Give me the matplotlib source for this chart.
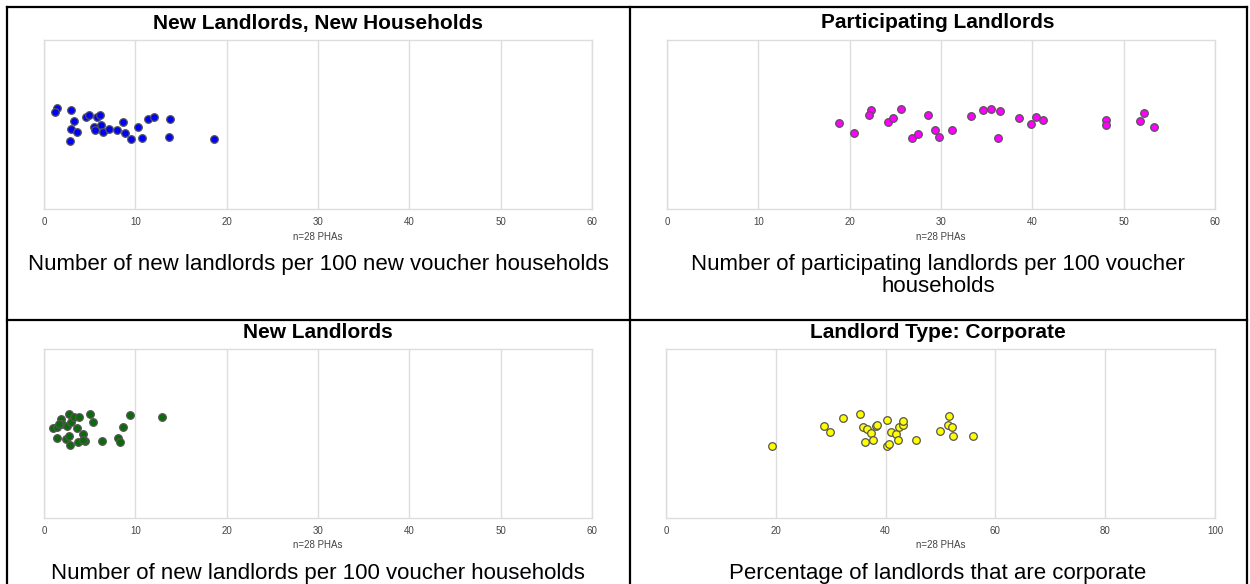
import matplotlib
matplotlib.use("Agg")
import matplotlib.pyplot as plt
from matplotlib.lines import Line2D

FONT = ["Liberation Sans Narrow", "Liberation Sans", "DejaVu Sans"]
plt.rcParams["font.family"] = FONT

# ---- data -------------------------------------------------------------
titles = ["New Landlords, New Households", "Participating Landlords",
          "New Landlords", "Landlord Type: Corporate"]
captions = ["Number of new landlords per 100 new voucher households",
            "Number of participating landlords per 100 voucher\nhouseholds",
            "Number of new landlords per 100 voucher households",
            "Percentage of landlords that are corporate"]
sample_note = "n=28 PHAs"

new_ll_new_hh = [1.39, 1.24, 2.99, 3.32, 2.99, 3.58, 2.88, 4.60, 4.89, 5.84,
                 6.10, 6.21, 5.44, 5.59, 6.46, 7.12, 7.96, 8.65, 8.84, 9.53,
                 10.33, 10.73, 11.36, 12.05, 13.80, 13.66, 18.59]
new_ll_new_hh_jit = [-0.099, -0.076, -0.084, -0.019, 0.028, 0.043, 0.096, -0.043,
                     -0.054, -0.043, -0.054, 0.001, 0.015, 0.033, 0.046, 0.027,
                     0.034, -0.013, 0.052, 0.086, 0.015, 0.080, -0.031, -0.046,
                     -0.031, 0.072, 0.086]

participating = [18.87, 20.47, 22.29, 22.11, 24.15, 24.77, 25.64, 26.81, 27.47,
                 28.56, 29.36, 29.76, 31.21, 33.26, 34.60, 35.52, 36.43, 36.21,
                 38.50, 39.85, 40.40, 41.20, 48.12, 48.09, 51.76, 52.27, 53.29]
participating_jit = [-0.011, 0.049, -0.088, -0.056, -0.017, -0.038, -0.092, 0.078,
                     0.058, -0.056, 0.031, 0.074, 0.031, -0.052, -0.084, -0.093,
                     -0.080, 0.078, -0.041, -0.001, -0.044, -0.028, -0.027, 0.003,
                     -0.022, -0.066, 0.017]

new_ll = [0.95, 1.46, 1.83, 1.46, 2.00, 2.49, 2.70, 2.99, 3.25, 3.87, 2.41, 2.77,
          2.88, 3.58, 3.69, 4.31, 4.49, 5.04, 5.37, 6.39, 8.14, 8.32, 8.62, 9.38,
          12.89, 4.30, 1.60]
new_ll_jit = [-0.031, -0.038, -0.088, 0.025, -0.058, -0.044, -0.114, -0.066,
              -0.096, -0.098, 0.034, 0.017, 0.068, -0.031, 0.052, 0.005, 0.044,
              -0.114, -0.066, 0.046, 0.028, 0.050, -0.040, -0.108, -0.099, 0.038,
              -0.054]

corporate_pct = [19.27, 28.86, 29.89, 32.32, 35.36, 35.85, 36.57, 37.36, 36.27,
                 37.72, 38.27, 38.51, 40.27, 41.00, 41.86, 42.40, 43.19, 43.24,
                 42.22, 40.33, 40.69, 45.56, 49.93, 51.57, 51.33, 52.11, 52.30,
                 55.94]
corporate_jit = [0.072, -0.046, -0.007, -0.090, -0.114, -0.038, -0.027, -0.003,
                 0.050, 0.037, -0.043, -0.049, -0.078, -0.007, 0.003, -0.038,
                 -0.052, -0.074, 0.038, 0.076, 0.062, 0.037, -0.015, -0.105,
                 -0.052, -0.038, 0.015, 0.013]

x_ticks_60 = [0, 10, 20, 30, 40, 50, 60]
x_ticks_100 = [0, 20, 40, 60, 80, 100]
colors = ["#0000ff", "#ff00ff", "#0b6b0b", "#ffff00"]

# ---- layout -----------------------------------------------------------
W, H = 1250, 584
fig = plt.figure(figsize=(W / 100, H / 100), dpi=100)
fig.patch.set_facecolor("white")


def fx(px):
    return px / W


def fy(py):
    return 1 - py / H


# table borders
border = dict(color="black", lw=1.6, transform=fig.transFigure)
fig.add_artist(Line2D([fx(7), fx(1247)], [fy(7), fy(7)], **border))
fig.add_artist(Line2D([fx(7), fx(7)], [fy(7), fy(590)], **border))
fig.add_artist(Line2D([fx(1247), fx(1247)], [fy(7), fy(590)], **border))
fig.add_artist(Line2D([fx(630), fx(630)], [fy(7), fy(590)], **border))
fig.add_artist(Line2D([fx(7), fx(1247)], [fy(320), fy(320)], **border))

panels = [
    (new_ll_new_hh, new_ll_new_hh_jit, x_ticks_60, 44, 592, 0),
    (participating, participating_jit, x_ticks_60, 667, 1215, 0),
    (new_ll, new_ll_jit, x_ticks_60, 44, 592, 309),
    (corporate_pct, corporate_jit, x_ticks_100, 666, 1215, 309),
]

for i, (vals, jit, ticks, x0, x1, dy) in enumerate(panels):
    top, bottom = 40 + dy, 209 + dy
    ax = fig.add_axes([fx(x0), fy(bottom), fx(x1 - x0), (bottom - top) / H])
    ax.set_facecolor("white")
    ax.scatter(vals, jit, s=30, c=colors[i], edgecolors="#555555",
               linewidths=0.9, zorder=3)
    ax.set_xlim(ticks[0], ticks[-1])
    ax.set_ylim(0.5, -0.5)
    ax.set_xticks(ticks)
    ax.set_xticklabels([str(t) for t in ticks])
    ax.set_yticks([])
    ax.tick_params(axis="x", length=0, pad=6, labelsize=7, labelcolor="#444444")
    ax.grid(axis="x", color="#dddddd", lw=1)
    ax.set_axisbelow(True)
    for sp in ax.spines.values():
        sp.set_color("#dddddd")
        sp.set_linewidth(1)
    ax.set_xlabel(sample_note, fontsize=7, color="#444444", labelpad=3)

    cell_cx = 318 if i % 2 == 0 else 938
    fig.text(fx(cell_cx), fy(23 + dy), titles[i], ha="center", va="center",
             fontsize=15, fontweight="bold", color="black")
    fig.text(fx(cell_cx), fy(254 + dy), captions[i], ha="center", va="top",
             fontsize=16, color="black", linespacing=1.05)

fig.savefig("out.png", dpi=100, facecolor="white")
